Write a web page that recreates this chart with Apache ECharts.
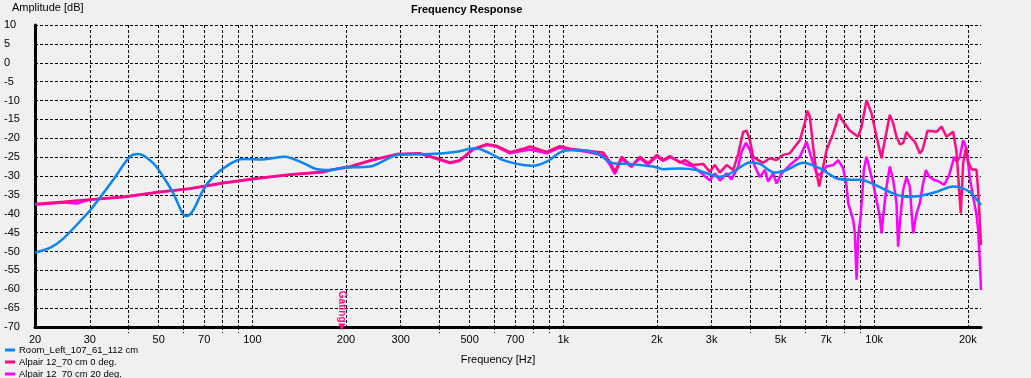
<!DOCTYPE html>
<html><head><meta charset="utf-8">
<script src="https://cdn.jsdelivr.net/npm/echarts@6/dist/echarts.min.js"></script>
<style>html,body{margin:0;padding:0;background:#f0f0f0}#c{width:1031px;height:378px}</style>
</head><body><div id="c"></div>
<script>
const seriesNames = ['Room_Left_107_61_112 cm', 'Alpair 12_70 cm 0 deg.', 'Alpair 12_70 cm 20 deg.'];
const seriesColors = ['#0b84f5', '#ff0a80', '#ff00ff'];

const roomFreq = [20, 22.4, 24.7, 30, 31.9, 35.7, 40.4, 43, 48, 51.7, 55.7, 60, 61.5, 64.6, 69.5, 74.9, 84.8, 93.5, 108, 127, 146, 161, 178, 196, 239, 298, 373, 454, 500, 526, 581, 641, 743, 800, 884, 1000, 1131, 1280, 1448, 1637, 1946, 2096, 2371, 2683, 3188, 3519, 3982, 4288, 4790, 5223, 5907, 6686, 7566, 8351, 9000, 9919, 11503, 12702, 14017, 15862, 17937, 18850, 20298, 22050];
const roomDb = [-50.3, -49, -46.5, -39.2, -36.4, -31, -24.9, -24.2, -26.6, -30.2, -34.6, -40.3, -40.6, -39, -33.7, -30.2, -26.8, -25.5, -25.6, -24.9, -26.6, -28.2, -28.4, -27.8, -27.5, -24.3, -24.2, -23.6, -22.8, -22.7, -24, -25.8, -27.1, -27.3, -26.2, -23.4, -23.1, -24, -26.6, -26.8, -27.5, -28.2, -28, -28.4, -30.2, -28.9, -26.4, -26.8, -29.1, -28.4, -26.5, -28, -30.6, -31, -31, -32.1, -34.6, -35.5, -35.3, -34.2, -32.8, -33, -34.2, -37.7];

const alpair0Freq = [20, 24.7, 30, 38.5, 49.2, 63, 80.7, 103, 132, 169, 178, 206, 239, 291, 347, 392, 432, 465, 513, 567, 610, 674, 743, 781, 884, 975, 1050, 1188, 1344, 1412, 1465, 1540, 1658, 1763, 1875, 2000, 2096, 2202, 2371, 2460, 2616, 2817, 2960, 3072, 3188, 3350, 3519, 3652, 3789, 3886, 3982, 4081, 4235, 4394, 4616, 4851, 5093, 5352, 5765, 5982, 6085, 6208, 6362, 6524, 6651, 6851, 7026, 7378, 7713, 7947, 8351, 8881, 9107, 9446, 9802, 10171, 10555, 10817, 11225, 11503, 11795, 12088, 12386, 12702, 13016, 13507, 14017, 14300, 14838, 15862, 16461, 17082, 17937, 18395, 18753, 18990, 19316, 19706, 20044, 20556, 21331, 21586, 22050];
const alpair0Db = [-37.4, -36.8, -36.2, -35.5, -34.3, -33.3, -31.8, -30.6, -29.6, -28.9, -28.4, -27.5, -25.9, -24.2, -24, -25.3, -26.4, -25.8, -22.8, -21.6, -22, -23.7, -22.8, -22.2, -23.6, -22.1, -22.8, -23.3, -23.8, -26.2, -28.9, -24.9, -27.4, -24.9, -26.6, -24.4, -25.8, -24.7, -26.5, -25.8, -27.1, -26.8, -28.9, -27.1, -29.1, -27.1, -28.4, -24.2, -18.3, -18, -20.5, -24.9, -25.8, -26.5, -25.3, -25.8, -24.4, -24, -20.5, -16, -12.7, -14.3, -22.2, -29.3, -32.8, -27.5, -23.1, -18.7, -13.6, -15.6, -18, -19.6, -16.9, -9.9, -13.4, -19.6, -25.3, -20.5, -13.8, -16, -19.6, -21.6, -21.3, -18.3, -19.6, -20.9, -24, -23.1, -18, -18.3, -16.9, -19.6, -18.3, -23.6, -33.7, -39.9, -26.6, -22.7, -26.2, -28.2, -28.4, -33.7, -48.3];

const alpair20Freq = [20, 24.7, 27.2, 30, 38.5, 49.2, 63, 80.7, 103, 132, 169, 178, 206, 239, 291, 347, 392, 432, 465, 513, 567, 610, 674, 743, 781, 884, 975, 1050, 1188, 1344, 1412, 1465, 1540, 1658, 1763, 1875, 2000, 2096, 2202, 2371, 2492, 2616, 2749, 2960, 3072, 3188, 3350, 3473, 3652, 3745, 3866, 3982, 4133, 4288, 4450, 4558, 4730, 4851, 5034, 5352, 5765, 6058, 6287, 6524, 6686, 7026, 7378, 7656, 7947, 8150, 8247, 8558, 8666, 8776, 8881, 9040, 9175, 9259, 9446, 9679, 9919, 10171, 10424, 10555, 10681, 10954, 11225, 11503, 11795, 11936, 12088, 12386, 12702, 13016, 13339, 13679, 14017, 14300, 14666, 15029, 15594, 16181, 16795, 17427, 18084, 18395, 18850, 19316, 19809, 20298, 20800, 21331, 21586, 21850, 22050];
const alpair20Db = [-37.6, -37.0, -37.3, -36.3, -35.6, -34.4, -33.4, -31.9, -30.7, -29.7, -29.0, -28.5, -27.6, -26.0, -24.3, -24.1, -25.5, -26.6, -26.0, -23.0, -21.8, -22.2, -24.0, -23.3, -23.0, -24.0, -22.5, -23.0, -23.6, -24.5, -27.0, -29.5, -25.5, -27.6, -25.3, -27.0, -24.8, -26.0, -25.0, -26.2, -27, -27.5, -28.9, -31.2, -29.3, -31.2, -29.3, -30.9, -27.5, -23.6, -21.2, -23.1, -27.5, -30.3, -28.4, -31.5, -29.3, -32, -29.3, -27.1, -24.9, -20.9, -25.3, -29.3, -29.7, -27.5, -27.1, -25.8, -28, -32.8, -37.2, -41.7, -45.2, -57.5, -46.1, -40.8, -33.7, -28.4, -24.9, -28.4, -32, -36.4, -40.8, -45.2, -40.8, -32.8, -27.5, -31.1, -37.2, -48.7, -42.5, -33.7, -30.3, -32.8, -45.2, -39.9, -37.2, -32.8, -28.4, -30.2, -31.1, -31.5, -32.4, -29.7, -24.9, -26.2, -25, -20.5, -22.7, -30.6, -35.5, -40.3, -44.3, -52.3, -60.2];

const labelFreqs = [20, 30, 50, 70, 100, 200, 300, 500, 700, 1000, 2000, 3000, 5000, 7000, 10000, 20000];
const gridFreqs = [20, 30, 40, 50, 60, 70, 80, 90, 100, 200, 300, 400, 500, 600, 700, 800, 900, 1000, 2000, 3000, 4000, 5000, 6000, 7000, 8000, 9000, 10000, 20000];
const smallTickFreqs = [40, 60, 80, 90, 400, 600, 800, 900, 4000, 6000, 8000, 9000];
const freqMin = 20, freqMax = 22050;
const dbMin = -70, dbMax = 10, dbStep = 5;
const gatingFreq = 194;

const lg = Math.log10;
const pairs = (fs, ds) => fs.map((f, i) => [lg(f), ds[i]]);
const FONT = '"Liberation Sans", Arial, sans-serif';
const dashed = { color: '#000', width: 1, type: [3, 2] };
const fmtFreq = v => { const f = Math.round(Math.pow(10, v)); return f >= 1000 ? (f / 1000) + 'k' : String(f); };

const chart = echarts.init(document.getElementById('c'));
chart.setOption({
  animation: false,
  backgroundColor: '#f0f0f0',
  textStyle: { fontFamily: FONT },
  title: [
    { text: 'Frequency Response', left: 411, top: 4, padding: 0,
      textStyle: { fontSize: 11, fontWeight: 'bold', color: '#000', fontFamily: FONT } },
    { text: 'Amplitude [dB]', left: 12, top: 2, padding: 0,
      textStyle: { fontSize: 11, fontWeight: 'normal', color: '#000', fontFamily: FONT } }
  ],
  legend: {
    data: seriesNames, orient: 'vertical', left: 5, top: 344, height: 40, padding: 0, itemGap: 0,
    icon: 'rect', itemWidth: 10, itemHeight: 3,
    textStyle: { fontSize: 9.5, color: '#000', lineHeight: 12, fontFamily: FONT, padding: [0, 0, 0, -1] }
  },
  grid: { left: 35, right: 50, top: 25, bottom: 51, containLabel: false },
  xAxis: [{
    type: 'value', min: lg(freqMin), max: lg(freqMax),
    name: 'Frequency [Hz]', nameLocation: 'middle', nameGap: 27,
    nameTextStyle: { fontSize: 11, color: '#000', padding: [0, 20, 0, 0], fontFamily: FONT },
    axisLine: { show: true, onZero: false, lineStyle: { color: '#000', width: 3 } },
    axisTick: { show: false, customValues: gridFreqs.map(lg) },
    axisLabel: { customValues: labelFreqs.map(lg), formatter: fmtFreq, margin: 7, fontSize: 11, color: '#000', fontFamily: FONT },
    splitLine: { show: true, lineStyle: dashed }
  }, {
    type: 'value', min: lg(freqMin), max: lg(freqMax), position: 'bottom',
    axisLine: { show: false, onZero: false },
    axisTick: { show: true, length: 6, inside: false, customValues: smallTickFreqs.map(lg), lineStyle: dashed },
    axisLabel: { show: false },
    splitLine: { show: false }
  }],
  yAxis: {
    type: 'value', min: dbMin, max: dbMax, interval: dbStep,
    axisLine: { show: true, onZero: false, lineStyle: { color: '#000', width: 3 } },
    axisTick: { show: false },
    axisLabel: { align: 'left', margin: 31, fontSize: 11, color: '#000', fontFamily: FONT },
    splitLine: { show: true, lineStyle: dashed }
  },
  series: [
    { name: seriesNames[0], type: 'line', data: pairs(roomFreq, roomDb), showSymbol: false, symbol: 'none',
      lineStyle: { width: 2.5, color: seriesColors[0] }, itemStyle: { color: seriesColors[0] }, z: 5, smooth: 0.3 },
    { name: seriesNames[1], type: 'line', data: pairs(alpair0Freq, alpair0Db), showSymbol: false, symbol: 'none',
      lineStyle: { width: 2.5, color: seriesColors[1] }, itemStyle: { color: seriesColors[1] }, z: 4,
      markPoint: {
        symbol: 'triangle', symbolRotate: 180, symbolSize: [7, 7], silent: true,
        itemStyle: { color: seriesColors[1] },
        label: { show: true, formatter: 'Gating', position: 'top', distance: 1, rotate: -90,
                 align: 'right', verticalAlign: 'middle', color: seriesColors[1], fontSize: 10, fontWeight: 'bold', fontFamily: FONT },
        data: [{ coord: [lg(gatingFreq), dbMin] }]
      } },
    { name: seriesNames[2], type: 'line', data: pairs(alpair20Freq, alpair20Db), showSymbol: false, symbol: 'none',
      lineStyle: { width: 2.5, color: seriesColors[2] }, itemStyle: { color: seriesColors[2] }, z: 3 }
  ]
});
</script>
</body></html>
